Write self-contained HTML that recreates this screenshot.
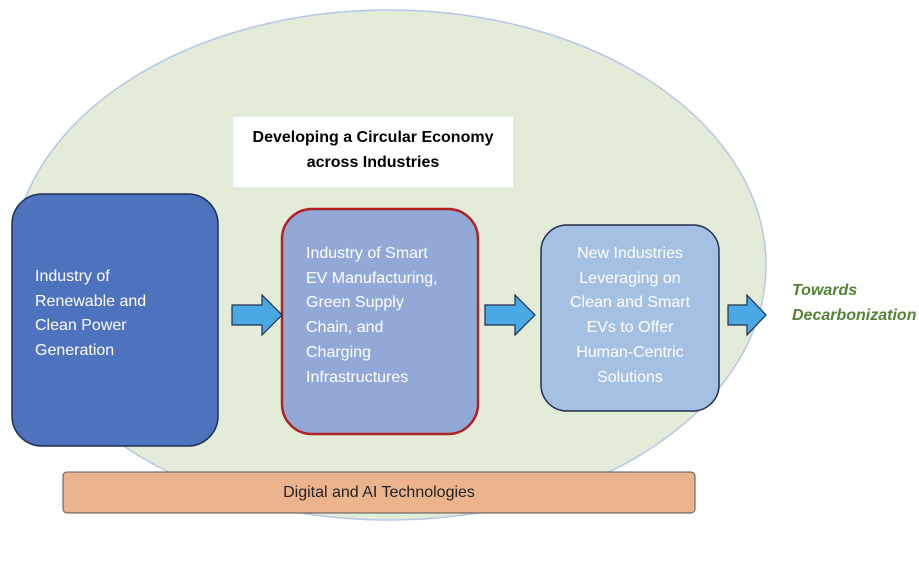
<!DOCTYPE html>
<html><head><style>
body{margin:0;width:919px;height:568px;background:#fff;position:relative;overflow:hidden;font-family:"Liberation Sans",sans-serif}
.t{position:absolute;color:#fff;font-size:16px;line-height:24.7px}
</style></head><body>
<svg width="919" height="568" style="position:absolute;left:0;top:0">
<ellipse cx="389" cy="265" rx="377" ry="255" fill="#e3ecd9" stroke="#b4c7e7" stroke-width="1.5"/>
<rect x="233" y="117" width="280" height="70" fill="#fff"/>
<rect x="12" y="194" width="206" height="252" rx="30" fill="#4f72be" stroke="#1f2f4f" stroke-width="1.5"/>
<rect x="282" y="209" width="196" height="225" rx="30" fill="#92a9d8" stroke="#b22222" stroke-width="2.5"/>
<rect x="541" y="225" width="178" height="186" rx="26" fill="#a4c1e4" stroke="#1f2f4f" stroke-width="1.5"/>
<g fill="#4aa8e4" stroke="#1f3050" stroke-width="1.2">
<polygon points="232,305 262,305 262,295 282,315 262,335 262,325 232,325"/>
<polygon points="485,305 515,305 515,295 535,315 515,335 515,325 485,325"/>
<polygon points="728,305 747,305 747,295 766,315 747,335 747,325 728,325"/>
</g>
<rect x="63" y="472" width="632" height="41" rx="4" fill="#ecb48c" stroke="#555" stroke-width="1"/>
</svg>
<div class="t" style="left:233px;top:125px;width:280px;color:#000;font-weight:bold;text-align:center;font-size:16px;line-height:25px">Developing a Circular Economy<br>across Industries</div>
<div class="t" style="left:35px;top:265px">Industry of<br>Renewable and<br>Clean Power<br>Generation</div>
<div class="t" style="left:306px;top:242px">Industry of Smart<br>EV Manufacturing,<br>Green Supply<br>Chain, and<br>Charging<br>Infrastructures</div>
<div class="t" style="left:541px;top:242px;width:178px;text-align:center">New Industries<br>Leveraging on<br>Clean and Smart<br>EVs to Offer<br>Human-Centric<br>Solutions</div>
<div class="t" style="left:792px;top:279px;color:#548235;font-weight:bold;font-style:italic">Towards<br>Decarbonization</div>
<div class="t" style="left:63px;top:481px;width:632px;text-align:center;color:#222">Digital and AI Technologies</div>
</body></html>
